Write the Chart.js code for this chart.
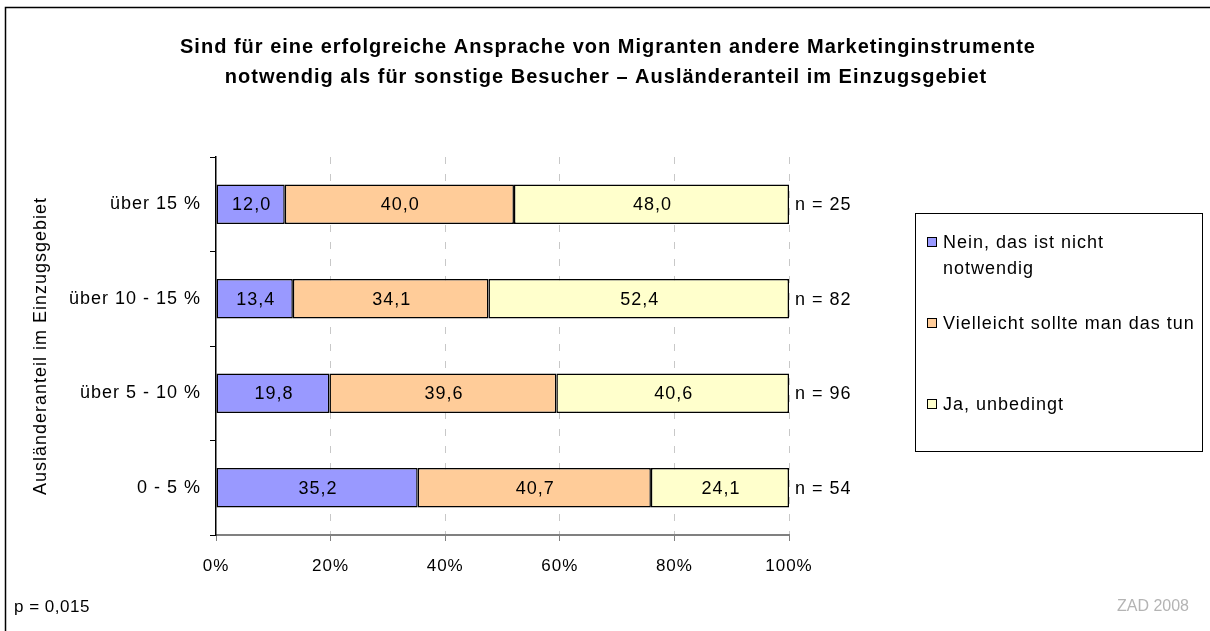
<!DOCTYPE html>
<html>
<head>
<meta charset="utf-8">
<script src="https://cdn.jsdelivr.net/npm/chart.js@4"></script>
<style>
html, body { margin: 0; padding: 0; background: #fff; }
</style>
</head>
<body>
<canvas id="chart" width="1210" height="631"></canvas>
<script>
// values
const categories = ['über 15 %', 'über 10 - 15 %', 'über 5 - 10 %', '0 - 5 %'];
const seriesNames = ['Nein, das ist nicht notwendig', 'Vielleicht sollte man das tun', 'Ja, unbedingt'];
const legendLines = [['Nein, das ist nicht', 'notwendig'], ['Vielleicht sollte man das tun'], ['Ja, unbedingt']];
const neinValues = [12.0, 13.4, 19.8, 35.2];
const vielleichtValues = [40.0, 34.1, 39.6, 40.7];
const jaValues = [48.0, 52.4, 40.6, 24.1];
const sampleSizes = [25, 82, 96, 54];
const xTicks = [0, 20, 40, 60, 80, 100];
const titleLines = [
    'Sind für eine erfolgreiche Ansprache von Migranten andere Marketinginstrumente',
    'notwendig als für sonstige Besucher – Ausländeranteil im Einzugsgebiet'
];
const axisTitle = 'Ausländeranteil im Einzugsgebiet';
const footLeft = 'p = 0,015';
const footRight = 'ZAD 2008';

const colors = ['#9999FF', '#FFCC99', '#FFFFCC'];
const FONT = '"Liberation Sans", Arial, sans-serif';

function fmt(v)
{
    return v.toFixed(1).replace('.', ',');
}

// rows do not always add up to exactly 100, Excel stretches them to the full width
const rowSums = categories.map((c, i) => neinValues[i] + vielleichtValues[i] + jaValues[i]);
const raw = [neinValues, vielleichtValues, jaValues];

const datasets = raw.map((vals, k) => ({
    label: seriesNames[k],
    data: vals.map((v, i) => v * 100 / rowSums[i]),
    raw: vals,
    backgroundColor: colors[k],
    borderColor: '#000',
    borderWidth: 1.5,
    borderSkipped: false,
    barPercentage: 0.42,
    categoryPercentage: 1
}));

const overlay = {
    id: 'overlay',
    beforeDraw(chart) {
        const ctx = chart.ctx;
        ctx.save();
        ctx.fillStyle = '#fff';
        ctx.fillRect(0, 0, chart.width, chart.height);
        ctx.strokeStyle = '#000';
        ctx.lineWidth = 1.5;
        ctx.strokeRect(5.5, 7.5, 1300, 700);
        ctx.restore();
        // the Excel export has wider glyph spacing than the browser
        ctx.letterSpacing = '1px';
    },
    afterDraw(chart) {
        const ctx = chart.ctx;
        const xs = chart.scales.x, ys = chart.scales.y;
        ctx.save();
        ctx.letterSpacing = '1px';

        // title
        ctx.fillStyle = '#000';
        ctx.textAlign = 'center';
        ctx.textBaseline = 'middle';
        ctx.font = 'bold 20px ' + FONT;
        ctx.fillText(titleLines[0], 608, 47);
        ctx.fillText(titleLines[1], 606, 77);

        // values inside the segments
        ctx.font = '18px ' + FONT;
        chart.data.datasets.forEach((ds, k) => {
            chart.getDatasetMeta(k).data.forEach((bar, i) => {
                ctx.fillText(fmt(ds.raw[i]), (bar.x + bar.base) / 2 + 1, bar.y + 1);
            });
        });

        // n = ... right of the bars
        ctx.textAlign = 'left';
        sampleSizes.forEach((n, i) => {
            ctx.fillText('n = ' + n, xs.getPixelForValue(100) + 6, ys.getPixelForValue(i) + 1);
        });

        // legend box
        ctx.strokeStyle = '#000';
        ctx.lineWidth = 1;
        ctx.strokeRect(915.5, 213.5, 287, 238);
        const rowY = [242, 323, 404];
        legendLines.forEach((lines, k) => {
            ctx.fillStyle = colors[k];
            ctx.fillRect(927.5, rowY[k] - 4.5, 9, 9);
            ctx.strokeStyle = '#000';
            ctx.strokeRect(927.5, rowY[k] - 4.5, 9, 9);
            ctx.fillStyle = '#000';
            lines.forEach((t, j) => ctx.fillText(t, 943, rowY[k] + 1 + j * 26));
        });

        // footer
        ctx.letterSpacing = '0.5px';
        ctx.font = '17px ' + FONT;
        ctx.fillText(footLeft, 14, 607);
        ctx.letterSpacing = '0px';
        ctx.font = '16px ' + FONT;
        ctx.textAlign = 'right';
        ctx.fillStyle = '#b4b4b4';
        ctx.fillText(footRight, 1189, 607);
        ctx.restore();
    }
};

new Chart(document.getElementById('chart'), {
    type: 'bar',
    data: { labels: categories, datasets: datasets },
    options: {
        indexAxis: 'y',
        responsive: false,
        animation: false,
        devicePixelRatio: 1,
        layout: { padding: { top: 157, right: 421, bottom: 0, left: 0 } },
        plugins: {
            legend: { display: false },
            tooltip: { enabled: false },
            title: { display: false }
        },
        scales: {
            x: {
                stacked: true,
                min: 0,
                max: 100,
                afterBuildTicks: (scale) => { scale.ticks = xTicks.map(v => ({ value: v })); },
                afterFit: (scale) => { scale.height = 96; },
                grid: {
                    color: (c) => c.tick && c.tick.value === 0 ? 'rgba(0,0,0,0)' : '#c8c8c8',
                    lineWidth: 1,
                    tickColor: '#808080',
                    tickLength: 6,
                    tickBorderDash: []
                },
                border: { color: '#808080', width: 2, dash: [7, 10] },
                ticks: {
                    color: '#000',
                    padding: 15,
                    font: { family: FONT, size: 17 },
                    callback: (v) => v + '%'
                }
            },
            y: {
                stacked: true,
                afterFit: (scale) => { scale.width = 216; },
                grid: {
                    drawOnChartArea: false,
                    offset: true,
                    tickColor: '#000',
                    tickLength: 6
                },
                border: { color: '#000', width: 1.5 },
                ticks: {
                    color: '#000',
                    padding: 9,
                    font: { family: FONT, size: 18 }
                },
                title: {
                    display: true,
                    text: axisTitle,
                    color: '#000',
                    padding: { top: 30, bottom: 0 },
                    font: { family: FONT, size: 18 }
                }
            }
        }
    },
    plugins: [overlay]
});
</script>
</body>
</html>
